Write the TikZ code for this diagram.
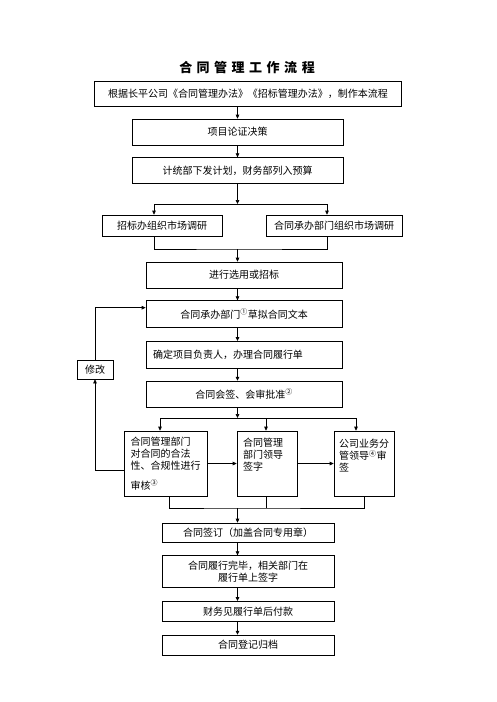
\documentclass[tikz,border=0pt]{standalone}
\usepackage{fontspec}
\newfontfamily\cjk{Noto Sans CJK SC}
\usetikzlibrary{arrows.meta,positioning}

\begin{document}
\begin{tikzpicture}[
				x=1pt, y=-1pt,
				node distance=13pt,
				box/.style={
					rectangle,
					draw=black,
					line width=0.7pt,
					inner sep=0pt,
					align=center,
					font=\cjk\fontsize{10}{12}\selectfont
				},
				arrow/.style={-{Triangle[length=4pt,width=3.6pt]},line width=0.7pt,draw=black},
				link/.style={line width=0.7pt,draw=black}
				]
				\useasboundingbox (0,0) rectangle (496,702);
				\node[font=\cjk\bfseries\fontsize{13}{15}\selectfont] (title) at (247,68)
					{合\hspace{4.5pt}同\hspace{4.5pt}管\hspace{4.5pt}理\hspace{4.5pt}工\hspace{4.5pt}作\hspace{4.5pt}流\hspace{4.5pt}程};
				\node[box, minimum width=307pt, minimum height=25pt] (basis) at (248,93.5)
					{根据长平公司《合同管理办法》《招标管理办法》，制作本流程};
				\node[box, minimum width=211pt, minimum height=26pt] (demo) at (237.5,132) {项目论证决策};
				\node[box, minimum width=211pt, minimum height=26pt, below=12pt of demo] (plan) {计统部下发计划，财务部列入预算};
				\node[box, minimum width=120pt, minimum height=21pt] (tender) at (162,225.5) {招标办组织市场调研};
				\node[box, minimum width=136pt, minimum height=21pt] (survey) at (334,225.5) {合同承办部门组织市场调研};
				\node[box, minimum width=196pt, minimum height=26pt] (select) at (244,275) {进行选用或招标};
				\node[box, minimum width=196pt, minimum height=27pt, below=12pt of select] (draft) {合同承办部门\textsuperscript{①}草拟合同文本};
				\node[box, text width=182pt, inner xsep=7pt, align=left, minimum height=27pt, below=13pt of draft] (confirm) {确定项目负责人，办理合同履行单};
				\node[box, minimum width=196pt, minimum height=26pt, below=12pt of confirm] (sign) {合同会签、会审批准\textsuperscript{②}};
				\node[box, minimum width=36pt, minimum height=19pt] (revise) at (95,369.5) {修改};
				\node[box, text width=70pt, inner xsep=6.5pt, align=left, minimum height=65pt] (reviewA) at (165.5,463.5)
					{合同管理部门\\对合同的合法\\性、合规性进行\\[8pt]审核\textsuperscript{③}};
				\node[box, text width=48pt, inner xsep=6pt, align=left, minimum height=65pt] (leaderB) at (267,463.5)
					{合同管理\\部门领导\\签字\\[6pt]\mbox{}};
				\node[box, text width=50pt, inner xsep=5pt, align=left, minimum height=65pt] (chiefC) at (364,463.5)
					{公司业务分\\管领导\textsuperscript{④}审\\签\\[4pt]\mbox{}};
				\node[box, minimum width=172pt, minimum height=19pt] (seal) at (248,532.5) {合同签订（加盖合同专用章）};
				\node[box, minimum width=172pt, minimum height=32pt, below=13pt of seal] (finish) {合同履行完毕，相关部门在\\履行单上签字};
				\node[box, minimum width=172pt, minimum height=20pt, below=13pt of finish] (pay) {财务见履行单后付款};
				\node[box, minimum width=172pt, minimum height=20pt, below=13pt of pay] (archive) {合同登记归档};
				
				\coordinate (split1) at (237.5,204);
				\coordinate (join1) at (237.5,249);
				\coordinate (split2) at (237.5,418);
				\coordinate (join2) at (237.5,508);
				
				\draw[arrow] (basis.south -| demo) -- (demo);
				\draw[arrow] (demo) -- (plan);
				\draw[arrow] (plan) -- (split1);
				\draw[arrow] (split1) -| ([xshift=-8pt]tender.north);
				\draw[arrow] (split1) -| ([xshift=-7pt]survey.north);
				\draw[link] ([xshift=-8pt]tender.south) |- (join1) -| ([xshift=-7pt]survey.south);
				\draw[arrow] (join1) -- (join1 |- select.north);
				\draw[arrow] (select.south -| join1) -- (draft.north -| join1);
				\draw[arrow] (draft.south -| join1) -- (confirm.north -| join1);
				\draw[arrow] (confirm.south -| join1) -- (sign.north -| join1);
				\draw[arrow] (sign.south -| split2) -- (split2);
				\draw[arrow] (split2) -| ([xshift=-5.5pt]reviewA.north);
				\draw[arrow] (split2) -| ([xshift=-1pt]leaderB.north);
				\draw[arrow] (split2) -| ([xshift=-8pt]chiefC.north);
				\draw[arrow] (reviewA) -- (leaderB);
				\draw[arrow] (leaderB) -- (chiefC);
				\draw[link] ([xshift=3.5pt]reviewA.south) |- (join2) -| (chiefC.south);
				\draw[link] ([xshift=-1pt]leaderB.south) -- ++(0,12);
				\draw[arrow] (join2) -- (join2 |- seal.north);
				\draw[arrow] (seal.south -| join2) -- (finish.north -| join2);
				\draw[arrow] (finish.south -| join2) -- (pay.north -| join2);
				\draw[arrow] (pay.south -| join2) -- (archive.north -| join2);
				% loop back for revision
				\draw[arrow] ([yshift=-6.5pt]reviewA.west) -| (revise.south);
				\draw[arrow] (revise.north) |- ([yshift=6.5pt]draft.west);
		\end{tikzpicture}
\end{document}
